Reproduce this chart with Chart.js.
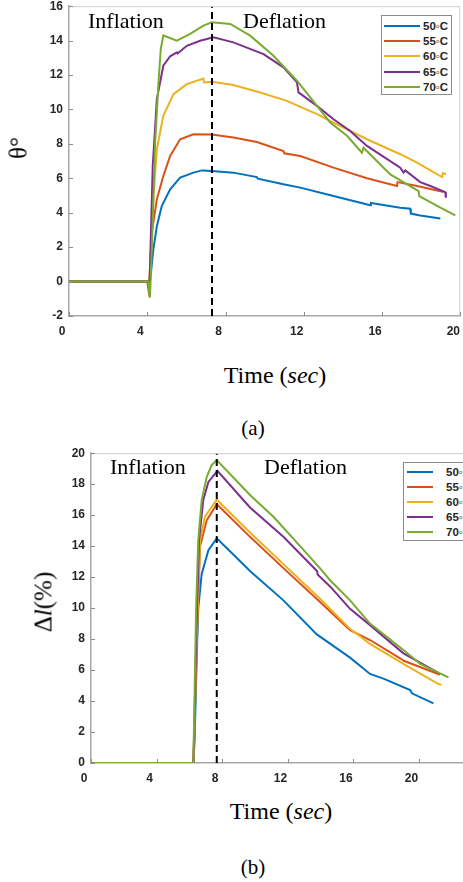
<!DOCTYPE html>
<html>
<head>
<meta charset="utf-8">
<script src="https://cdn.jsdelivr.net/npm/chart.js@4.4.1/dist/chart.umd.min.js"></script>
<style>
html,body{margin:0;padding:0;background:#fff;}
body{width:463px;height:882px;overflow:hidden;position:relative;}
canvas{position:absolute;left:0;}
#cA{top:-7px;}
#cB{top:440px;}
.serif{position:absolute;font-family:"Liberation Serif","Times New Roman",serif;color:#000;white-space:nowrap;line-height:1;}
.rot{transform:translate(-50%,-50%) rotate(-90deg);}
.ctr{transform:translate(-50%,-50%);}
.legend{position:absolute;border:1px solid #8c8c8c;background:#fff;box-sizing:border-box;}
.legend .row{position:absolute;left:0;height:14px;}
.legend .ln{position:absolute;height:2px;top:6px;}
.legend .tx{position:absolute;top:0;font:bold 11.5px "Liberation Sans",Arial,sans-serif;color:#262626;line-height:14px;white-space:nowrap;}
</style>
</head>
<body>
<canvas id="cA" width="475" height="347"></canvas>
<canvas id="cB" width="500" height="347"></canvas>

<div class="serif rot" style="left:18px;top:148px;font-size:25px;">θ°</div>
<div class="serif ctr" style="left:275px;top:375px;font-size:24px;">Time (<i>sec</i>)</div>
<div class="serif ctr" style="left:253px;top:428px;font-size:21px;">(a)</div>

<div class="serif rot" style="left:43px;top:602px;font-size:25px;">Δ<i>l</i>(%)</div>
<div class="serif ctr" style="left:281px;top:811px;font-size:24px;">Time (<i>sec</i>)</div>
<div class="serif ctr" style="left:253px;top:867px;font-size:21px;">(b)</div>

<div id="legA" class="legend" style="left:381px;top:15px;width:71px;height:80px;"></div>
<div id="legB" class="legend" style="left:403px;top:462px;width:76px;height:79px;"></div>

<script>
// ---------- data ----------
const seriesLabels = ['50◦C', '55◦C', '60◦C', '65◦C', '70◦C'];
const seriesColors = ['#0072BD', '#D95319', '#EDB120', '#7E2F8E', '#77AC30'];

const xTicksA = [0, 4, 8, 12, 16, 20];
const yTicksA = [-2, 0, 2, 4, 6, 8, 10, 12, 14, 16];
const xTicksB = [0, 4, 8, 12, 16, 20];
const yTicksB = [0, 2, 4, 6, 8, 10, 12, 14, 16, 18, 20];

const boundaryA = 7.31;   // inflation / deflation switch (a)
const boundaryB = 7.68;   // inflation / deflation switch (b)

// (a) bending angle θ° vs time
const timeA50  = [0, 4.14, 4.31, 4.49, 4.74, 5.17, 5.68, 6.36, 6.79, 7.30, 8.40, 9.60, 9.65, 10.96, 11.82, 13.52, 15.40, 15.43, 16.93, 17.44, 17.47, 17.95, 18.98];
const thetaA50 = [0, 0, 1.86, 3.22, 4.39, 5.36, 6.04, 6.33, 6.46, 6.42, 6.33, 6.07, 5.98, 5.65, 5.46, 4.97, 4.43, 4.57, 4.29, 4.23, 3.95, 3.84, 3.67];

const timeA55  = [0, 4.00, 4.06, 4.12, 4.23, 4.49, 4.82, 5.17, 5.68, 6.36, 7.30, 8.40, 9.60, 10.96, 11.00, 11.82, 13.52, 15.23, 16.76, 16.79, 17.79, 19.15];
const thetaA55 = [0, 0, -0.47, 0.3, 2.83, 4.78, 6.13, 7.30, 8.27, 8.56, 8.54, 8.37, 8.11, 7.59, 7.45, 7.30, 6.62, 6.00, 5.55, 5.78, 5.55, 5.20];

const timeA60  = [0, 4.12, 4.31, 4.49, 4.82, 5.34, 6.02, 6.87, 6.90, 7.30, 8.40, 9.77, 11.14, 12.67, 13.52, 15.23, 16.93, 17.79, 19.06, 19.12, 19.28];
const thetaA60 = [0, 0, 4.78, 7.69, 9.63, 10.89, 11.47, 11.80, 11.57, 11.61, 11.42, 10.99, 10.50, 9.73, 9.24, 8.27, 7.40, 6.91, 6.07, 6.30, 6.23];

const timeA65  = [0, 4.12, 4.28, 4.49, 4.82, 5.17, 5.51, 5.55, 6.02, 6.70, 7.38, 8.40, 9.94, 10.96, 11.65, 11.73, 12.67, 13.52, 14.37, 15.23, 16.93, 17.10, 17.19, 17.95, 18.47, 19.23, 19.26];
const thetaA65 = [0, 0, 6.72, 10.60, 12.54, 13.09, 13.32, 13.25, 13.70, 13.99, 14.19, 13.90, 13.22, 12.45, 11.57, 10.99, 10.21, 9.43, 8.75, 7.88, 6.62, 6.33, 6.46, 5.78, 5.55, 5.20, 4.87];

const timeA70  = [0, 4.04, 4.14, 4.25, 4.40, 4.57, 4.69, 4.82, 5.51, 6.19, 6.87, 7.30, 8.24, 9.26, 10.45, 11.65, 12.50, 13.35, 14.22, 14.97, 15.05, 16.42, 17.87, 17.90, 18.98, 19.74];
const thetaA70 = [0, 0, -0.93, 2.5, 8.0, 11.5, 13.5, 14.30, 14.00, 14.39, 14.87, 15.07, 14.97, 14.29, 13.12, 11.67, 10.45, 9.24, 8.46, 7.49, 7.78, 6.23, 5.26, 4.97, 4.29, 3.84];

// (b) elongation Δl(%) vs time
const timeB50   = [0, 6.25, 6.33, 6.46, 6.55, 6.76, 7.17, 7.68, 9.71, 11.75, 13.79, 15.82, 17.04, 17.86, 19.49, 19.60, 20.91];
const strainB50 = [0, 0, 1.5, 7.0, 10.0, 12.2, 13.74, 14.5, 12.4, 10.5, 8.3, 6.8, 5.75, 5.45, 4.71, 4.5, 3.85];

const timeB55   = [0, 6.25, 6.30, 6.45, 6.66, 7.07, 7.68, 9.71, 11.75, 13.99, 15.82, 17.04, 18.88, 19.10, 21.32];
const strainB55 = [0, 0, 1.5, 7.5, 14.0, 15.68, 16.71, 14.6, 12.58, 10.4, 8.58, 7.94, 6.76, 6.6, 5.7];

const timeB60   = [0, 6.25, 6.30, 6.45, 6.66, 6.96, 7.68, 9.71, 11.75, 13.99, 15.82, 17.04, 19.08, 21.22, 21.40];
const strainB60 = [0, 0, 1.5, 8.0, 14.4, 15.9, 17.0, 14.88, 12.84, 10.6, 8.66, 7.69, 6.4, 5.1, 5.05];

const timeB65   = [0, 6.25, 6.30, 6.45, 6.60, 6.86, 7.17, 7.72, 9.71, 11.75, 13.80, 13.85, 14.60, 15.82, 17.04, 19.08, 21.22];
const strainB65 = [0, 0, 2.0, 9.0, 14.4, 17.0, 18.15, 18.86, 16.5, 14.6, 12.4, 12.15, 11.4, 9.95, 8.9, 7.08, 5.82];

const timeB70   = [0, 6.25, 6.30, 6.42, 6.55, 6.76, 7.07, 7.37, 7.68, 9.71, 11.14, 12.77, 13.99, 14.60, 15.82, 17.04, 19.08, 20.10, 21.83];
const strainB70 = [0, 0, 3.0, 10.0, 14.4, 16.97, 18.47, 19.23, 19.55, 17.3, 15.9, 14.0, 12.56, 11.8, 10.5, 9.0, 7.3, 6.4, 5.53];

// ---------- helpers ----------
const pts = (xs, ys) => xs.map((x, i) => ({x: x, y: ys[i]}));
const tickFont = {family: '"Liberation Sans", Arial, sans-serif', size: 12, weight: 'bold'};

const decor = {
  id: 'decor',
  afterDraw(chart, args, opts) {
    const {ctx, chartArea: a} = chart;
    const xs = chart.scales.x, ys = chart.scales.y;
    ctx.save();
    ctx.lineWidth = 1;
    ctx.strokeStyle = '#d0d0d0';
    ctx.beginPath();
    ctx.moveTo(a.left, a.top + 0.5);
    ctx.lineTo(a.right - 0.5, a.top + 0.5);
    ctx.lineTo(a.right - 0.5, a.bottom);
    ctx.stroke();
    ctx.strokeStyle = '#8c8c8c';
    ctx.beginPath();
    xs.ticks.forEach(t => {
      const p = Math.round(xs.getPixelForValue(t.value)) + 0.5;
      ctx.moveTo(p, a.bottom); ctx.lineTo(p, a.bottom - 4);
    });
    ys.ticks.forEach(t => {
      const p = Math.round(ys.getPixelForValue(t.value)) + 0.5;
      ctx.moveTo(a.left, p); ctx.lineTo(a.left + 4, p);
    });
    ctx.stroke();
    ctx.fillStyle = '#000';
    ctx.font = '22px "Liberation Serif", "Times New Roman", serif';
    ctx.textBaseline = 'alphabetic';
    ctx.textAlign = 'left';
    opts.texts.forEach(t => ctx.fillText(t.s, t.x, t.y));
    ctx.restore();
  }
};

function build(id, series, boundary, xTicks, yTicks, xMax, yWidth, pad, texts) {
  const yMin = yTicks[0], yMax = yTicks[yTicks.length - 1];
  const datasets = [{
    data: [{x: boundary, y: yMin}, {x: boundary, y: yMax}],
    borderColor: '#000', borderWidth: 2, borderDash: [7, 4],
    pointRadius: 0, order: 0
  }];
  series.forEach((s, i) => datasets.push({
    label: seriesLabels[i],
    data: pts(s[0], s[1]),
    borderColor: seriesColors[i], borderWidth: 2,
    pointRadius: 0, tension: 0, order: series.length - i
  }));
  return new Chart(document.getElementById(id), {
    type: 'line',
    data: {datasets: datasets},
    plugins: [decor],
    options: {
      responsive: false, animation: false, devicePixelRatio: 1,
      layout: {padding: pad},
      plugins: {legend: {display: false}, tooltip: {enabled: false}, decor: {texts: texts}},
      scales: {
        x: {
          type: 'linear', min: 0, max: xMax,
          afterBuildTicks: sc => { sc.ticks = xTicks.map(v => ({value: v})); },
          grid: {display: false, drawTicks: false},
          border: {display: true, color: '#a8a8a8', width: 1.5},
          ticks: {font: tickFont, color: '#262626', padding: 8, labelOffset: -7, maxRotation: 0, autoSkip: false},
          afterFit: sc => { sc.height = 24; }
        },
        y: {
          type: 'linear', min: yMin, max: yMax,
          afterBuildTicks: sc => { sc.ticks = yTicks.map(v => ({value: v})); },
          grid: {display: false, drawTicks: false},
          border: {display: true, color: '#a8a8a8', width: 1.5},
          ticks: {font: tickFont, color: '#262626', padding: 6, autoSkip: false},
          afterFit: sc => { sc.width = yWidth; }
        }
      }
    }
  });
}

build('cA',
  [[timeA50, thetaA50], [timeA55, thetaA55], [timeA60, thetaA60], [timeA65, thetaA65], [timeA70, thetaA70]],
  boundaryA, xTicksA, yTicksA, 20, 69, {left: 0, top: 13, right: 0, bottom: 0},
  [{s: 'Inflation', x: 88, y: 35}, {s: 'Deflation', x: 243, y: 35}]);

build('cB',
  [[timeB50, strainB50], [timeB55, strainB55], [timeB60, strainB60], [timeB65, strainB65], [timeB70, strainB70]],
  boundaryB, xTicksB, yTicksB, 24, 91, {left: 0, top: 13, right: 16, bottom: 0},
  [{s: 'Inflation', x: 110, y: 34}, {s: 'Deflation', x: 264, y: 34}]);

// ---------- legends ----------
function legend(id, rowTops, lineLeft, lineWidth, textLeft) {
  const box = document.getElementById(id);
  seriesLabels.forEach((lab, i) => {
    const row = document.createElement('div');
    row.className = 'row';
    row.style.top = rowTops[i] + 'px';
    row.style.width = '100%';
    const ln = document.createElement('div');
    ln.className = 'ln';
    ln.style.left = lineLeft + 'px';
    ln.style.width = lineWidth + 'px';
    ln.style.background = seriesColors[i];
    const tx = document.createElement('div');
    tx.className = 'tx';
    tx.style.left = textLeft + 'px';
    tx.textContent = lab;
    row.appendChild(ln); row.appendChild(tx);
    box.appendChild(row);
  });
}
legend('legA', [3, 18, 33, 48.5, 63.5], 2, 36, 41);
legend('legB', [2, 17, 32, 47, 62], 3, 26, 42);
</script>
</body>
</html>
